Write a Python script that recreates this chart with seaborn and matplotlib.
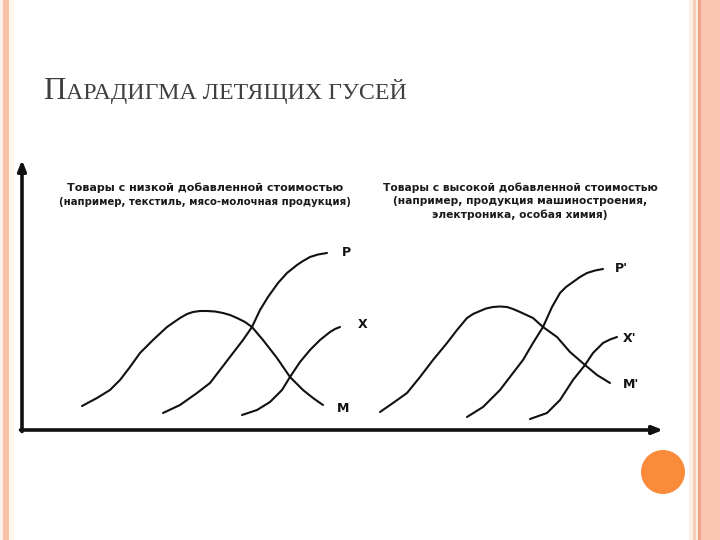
import numpy as np
import pandas as pd
import matplotlib
matplotlib.use("Agg")
import matplotlib.pyplot as plt
import seaborn as sns
from matplotlib.patches import Rectangle, Circle

# Curves of the "flying geese" diagram (x, y, origin at the axis corner)
m_x = [60, 75, 88, 98, 108, 118, 131, 145, 158, 165, 171, 178, 185, 193, 201, 208, 215, 223, 230, 241, 255, 268, 281, 291, 301]
m_y = [24, 32, 40, 50, 63, 77, 90, 103, 112, 116, 118, 119, 119, 118.5, 117, 115, 112, 108, 103, 90, 72, 53, 40, 32, 25]
p_x = [141, 158, 175, 188, 198, 211, 221, 230, 238, 246, 256, 265, 275, 281, 288, 296, 305]
p_y = [17, 25, 37, 47, 60, 77, 90, 103, 120, 133, 147, 157, 165, 169, 173, 175.5, 177]
x_x = [220, 235, 248, 260, 268, 278, 288, 298, 308, 313, 318]
x_y = [15, 20, 28, 40, 53, 68, 80, 90, 98, 101, 103]

m2_x = [358, 371, 385, 398, 411, 425, 435, 445, 451, 458, 464, 471, 478, 485, 491, 498, 511, 521, 535, 548, 563, 575, 588]
m2_y = [18, 27, 37, 53, 70, 87, 100, 112, 116, 119, 121.5, 123, 123.5, 123, 121, 118, 112, 103, 93, 78, 65, 55, 47]
p2_x = [445, 461, 478, 491, 501, 511, 521, 530, 538, 544, 551, 558, 565, 573, 581]
p2_y = [13, 23, 40, 57, 70, 87, 103, 123, 137, 143, 148, 153, 157, 159.5, 161]
x2_x = [508, 525, 538, 551, 563, 571, 581, 588, 595]
x2_y = [11, 17, 30, 50, 65, 77, 87, 90.5, 93]

curve_names = ["M", "P", "X", "M'", "P'", "X'"]
label_x = [315, 320, 336, 601, 593, 601]
label_y = [22, 178, 105, 45, 162, 92]

left_caption = ["Товары с низкой добавленной стоимостью",
                "(например, текстиль, мясо-молочная продукция)"]
right_caption = ["Товары с высокой добавленной стоимостью",
                 "(например, продукция машиностроения,",
                 "электроника, особая химия)"]

curves = {"M": (m_x, m_y), "P": (p_x, p_y), "X": (x_x, x_y),
          "M'": (m2_x, m2_y), "P'": (p2_x, p2_y), "X'": (x2_x, x2_y)}
rows = []
for name, (xs, ys) in curves.items():
    for i, (a, b) in enumerate(zip(xs, ys)):
        rows.append((name, i, a, b))
df = pd.DataFrame(rows, columns=["curve", "order", "x", "y"])

sns.set_theme(style="white")
plt.rcParams['font.family'] = ['DejaVu Sans']

W, H = 720, 540
fig = plt.figure(figsize=(W / 100, H / 100), dpi=100)
fig.patch.set_facecolor("white")

# slide borders
def px_rect(x0, x1, color):
    fig.patches.append(Rectangle((x0 / W, 0), (x1 - x0) / W, 1, transform=fig.transFigure,
                                 facecolor=color, edgecolor="none", zorder=0))

px_rect(0, 3, "#fdf3ea")
px_rect(3, 9, "#f9c2a8")
px_rect(9, 14, "#fef7ee")
px_rect(689, 693, "#fdefe3")
px_rect(693, 696, "#f9cdb9")
px_rect(696, 698, "#fdeee3")
px_rect(698, 701, "#f2a184")
px_rect(701, 720, "#fac6b2")

# orange dot
dot = Circle((6.63, (H - 472) / 100), 0.22, transform=fig.dpi_scale_trans,
             facecolor="#f98b3a", edgecolor="none", zorder=1)
fig.patches.append(dot)

# title in small caps
t1 = fig.text(43 / W, 1 - 99 / H, "П", fontsize=22.5, family="Liberation Serif",
              color="#404040", va="baseline")
fig.canvas.draw()
bb = t1.get_window_extent()
fig.text(bb.x1 / W, 1 - 99 / H, "АРАДИГМА ЛЕТЯЩИХ ГУСЕЙ", fontsize=17.2,
         family="Liberation Serif", color="#404040", va="baseline")

# diagram axes
ax = fig.add_axes([22 / W, 110 / H, 640 / W, 272 / H])
ax.set_xlim(0, 640)
ax.set_ylim(0, 272)
ax.patch.set_alpha(0)
for s in ax.spines.values():
    s.set_visible(False)
ax.set_xticks([])
ax.set_yticks([])

sns.lineplot(data=df, x="x", y="y", units="curve", estimator=None, sort=False,
             color="#111111", linewidth=1.5, ax=ax, legend=False)
ax.set_xlabel("")
ax.set_ylabel("")

ax.annotate("", xy=(641, 0), xytext=(-1.5, 0), xycoords="data",
            arrowprops=dict(arrowstyle="-|>,head_length=0.5,head_width=0.2",
                            color="#111111", lw=2.6, shrinkA=0, shrinkB=0),
            annotation_clip=False)
ax.annotate("", xy=(0, 270), xytext=(0, -1.5), xycoords="data",
            arrowprops=dict(arrowstyle="-|>,head_length=0.5,head_width=0.2",
                            color="#111111", lw=2.6, shrinkA=0, shrinkB=0),
            annotation_clip=False)

for name, lx, ly in zip(curve_names, label_x, label_y):
    ax.text(lx, ly, name, fontsize=9, fontweight="bold", color="#111111",
            ha="left", va="center")

left_sizes = [8.0, 7.3]
for i, line in enumerate(left_caption):
    ax.text(183, 242 - i * 14, line, fontsize=left_sizes[i], fontweight="bold",
            color="#1a1a1a", ha="center", va="center")
for i, line in enumerate(right_caption):
    ax.text(498, 242 - i * 13.5, line, fontsize=7.7, fontweight="bold",
            color="#1a1a1a", ha="center", va="center")

fig.savefig("out.png", dpi=100)
